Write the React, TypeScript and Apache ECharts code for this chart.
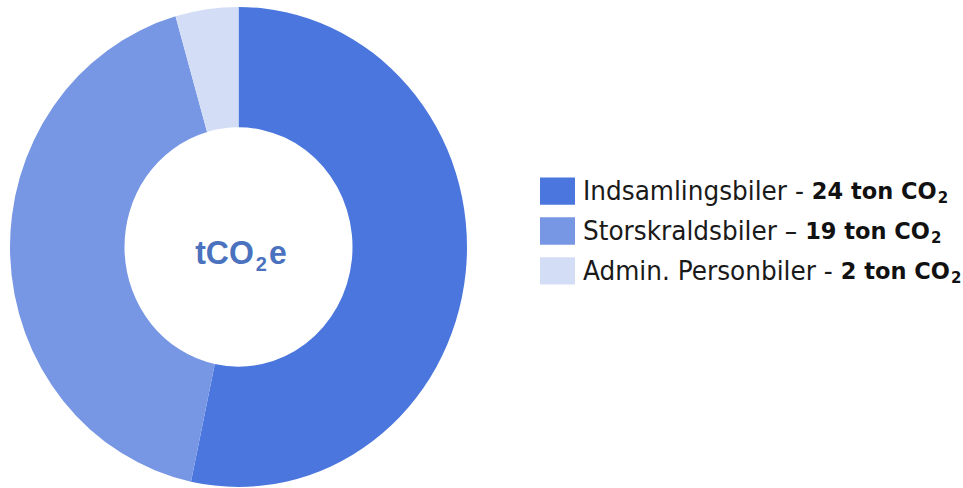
import React, { useEffect, useRef } from "react";
import * as echarts from "echarts";

const categories = ["Indsamlingsbiler", "Storskraldsbiler", "Admin. Personbiler"];
const values = [24, 19, 2];
const separators = [" - ", " – ", " - "];
const unitText = "ton CO";
const unitSub = "2";
const colors = ["#4A76DD", "#7797E4", "#D3DEF6"];
const centerMain = ["tCO", "2", "e"];

export default function App() {
  const ref = useRef<HTMLDivElement>(null);
  useEffect(() => {
    document.body.style.margin = "0";
    document.body.style.overflow = "hidden";
    const chart = echarts.init(ref.current!, null, { renderer: "svg" });
    const valueByName: Record<string, number> = {};
    categories.forEach((c, i) => (valueByName[c] = values[i]));
    chart.setOption({
      animation: false,
      legend: {
        orient: "vertical",
        left: 540,
        top: 168,
        padding: 0,
        icon: "rect",
        itemWidth: 35,
        itemHeight: 26,
        itemGap: 10,
        selectedMode: false,
        data: categories,
        formatter: (name: string) => {
          const i = categories.indexOf(name);
          return `{n|${name}${separators[i]}}{b|${valueByName[name]} ${unitText}}{s|${unitSub}}`;
        },
        textStyle: {
          rich: {
            n: { fontFamily: "DejaVu Sans", fontSize: 24.8, color: "#1a1a1a", lineHeight: 26, padding: [0, 0, 0, 3] },
            b: { fontFamily: "DejaVu Sans", fontSize: 22.5, fontWeight: 700, color: "#111", lineHeight: 26 },
            s: { fontFamily: "DejaVu Sans", fontSize: 15, fontWeight: 600, color: "#111", lineHeight: 26, padding: [13, 0, 0, 1] },
          },
        },
      },
      graphic: [
        {
          type: "text",
          x: 241,
          y: 240,
          style: {
            text: `{a|${centerMain[0]}}{s|${centerMain[1]}}{a|${centerMain[2]}}`,
            align: "center",
            verticalAlign: "middle",
            fill: "#4A72BE",
            rich: {
              a: { fontFamily: "Liberation Sans", fontSize: 32, fontWeight: 700, fill: "#4A72BE", lineHeight: 34 },
              s: { fontFamily: "Liberation Sans", fontSize: 20, fontWeight: 700, fill: "#4A72BE", lineHeight: 34, padding: [22, 2, 0, 2] },
            },
          },
        },
      ],
      series: [
        {
          type: "pie",
          center: [238.5, 235.2],
          radius: [114, 228.5],
          startAngle: 90,
          clockwise: true,
          label: { show: false },
          labelLine: { show: false },
          emphasis: { disabled: true },
          silent: true,
          data: categories.map((c, i) => ({ name: c, value: values[i], itemStyle: { color: colors[i] } })),
        },
      ],
    });
    return () => chart.dispose();
  }, []);
  return (
    <div style={{ width: 963, height: 488, overflow: "hidden" }}>
      <div
        ref={ref}
        style={{ width: 963, height: 465, transform: "scaleY(1.05)", transformOrigin: "0 0" }}
      />
    </div>
  );
}
